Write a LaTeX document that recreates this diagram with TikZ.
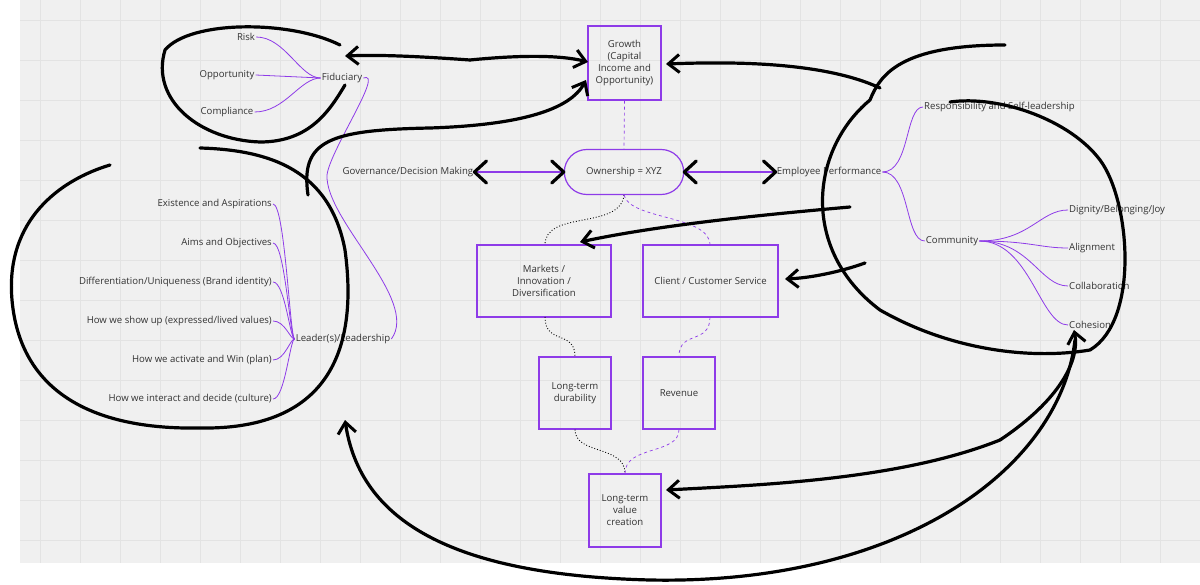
\documentclass[tikz,border=0pt]{standalone}
\usepackage{fontspec}
\setmainfont{Open Sans}
\usetikzlibrary{arrows.meta,shapes.misc}
\definecolor{pu}{HTML}{8E3BE8}
\definecolor{tx}{HTML}{333333}
\begin{document}
\begin{tikzpicture}[x=1pt,y=-1pt,
 every node/.style={font=\fontsize{9.6}{12}\selectfont,text=tx},
 box/.style={draw=pu,line width=1.2pt,minimum width=72pt,minimum height=72pt,align=center},
 lbl/.style={inner sep=1pt},
 br/.style={pu,line width=0.8pt},
 dot/.style={black,dotted,line width=0.9pt},
 dsh/.style={pu,dashed,line width=0.7pt},
 ink/.style={black,line width=3.2pt,line cap=round,line join=round},
 hd/.style={-{Straight Barb[length=11pt,width=18pt,line width=3pt]}}]
\useasboundingbox (0,0) rectangle (1200,585);
\fill[white] (0,0) rectangle (1200,585);
\fill[black!6] (20,0) rectangle (1200,563);
\foreach \x in {40,80,...,1200} \draw[black!11,line width=0.4pt] (\x,0) -- (\x,563);
\foreach \y in {20,60,...,560} \draw[black!11,line width=0.4pt] (20,\y) -- (1200,\y);
% boxes
\node[box,minimum width=73pt,minimum height=74pt] (gr) at (624.5,63) {Growth\\(Capital\\Income and\\Opportunity)};
\node[draw=pu,line width=1.2pt,rounded rectangle,minimum width=126pt,minimum height=45pt] (own) at (624,172) {Ownership = XYZ};
\node[box,minimum width=134pt] (mk) at (544,281) {Markets /\\Innovation /\\Diversification};
\node[box,minimum width=135pt] (cl) at (710.5,281) {Client / Customer Service};
\node[box] (ld) at (575,393) {Long-term\\durability};
\node[box] (rv) at (679,393) {Revenue};
\node[box,minimum height=73pt] (vc) at (625,510.5) {Long-term\\value\\creation};
\node[lbl] (gov) at (408,172) {Governance/Decision Making};
\node[lbl] (emp) at (829,172) {Employee Performance};
\node[lbl] (fid) at (342,78) {Fiduciary};
\node[lbl] (risk) at (246,37) {Risk};
\node[lbl] (opp) at (227,75) {Opportunity};
\node[lbl] (comp) at (227,112) {Compliance};
\node[lbl] (lead) at (343,339) {Leader(s)/Leadership};
\node[lbl,anchor=east] (l1) at (273,204) {Existence and Aspirations};
\node[lbl,anchor=east] (l2) at (273,243) {Aims and Objectives};
\node[lbl,anchor=east] (l3) at (273,282) {Differentiation/Uniqueness (Brand identity)};
\node[lbl,anchor=east] (l4) at (273,321) {How we show up (expressed/lived values)};
\node[lbl,anchor=east] (l5) at (273,360) {How we activate and Win (plan)};
\node[lbl,anchor=east] (l6) at (273,399) {How we interact and decide (culture)};
\node[lbl,anchor=west] (resp) at (923,107) {Responsibility and Self-leadership};
\node[lbl] (com) at (952,241) {Community};
\node[lbl,anchor=west] (c1) at (1068,210) {Dignity/Belonging/Joy};
\node[lbl,anchor=west] (c2) at (1068,248) {Alignment};
\node[lbl,anchor=west] (c3) at (1068,286) {Collaboration};
\node[lbl,anchor=west] (c4) at (1068,325) {Cohesion};
% purple links with hand-drawn heads
\draw[pu,line width=1.2pt] (gov.east) -- (own.west);
\draw[pu,line width=1.2pt] (own.east) -- (emp.west);
\draw[ink] ([shift={(12,-11)}]gov.east) -- (gov.east) -- ([shift={(12,11)}]gov.east);
\draw[ink] ([shift={(-12,-11)}]own.west) -- (own.west) -- ([shift={(-12,11)}]own.west);
\draw[ink] ([shift={(12,-11)}]own.east) -- (own.east) -- ([shift={(12,11)}]own.east);
\draw[ink] ([shift={(-12,-11)}]emp.west) -- (emp.west) -- ([shift={(-12,11)}]emp.west);
\draw[br] (fid.west) .. controls (300,78) and (285,37) .. (risk.east);
\draw[br] (fid.west) -- (opp.east);
\draw[br] (fid.west) .. controls (300,78) and (285,112) .. (comp.east);
\foreach \n/\yy in {l1/204,l2/243,l3/282,l4/321,l5/360,l6/399} \draw[br] (lead.west) .. controls (290,339) and (285,\yy) .. (\n.east);
\draw[br] (fid.east) .. controls (385,70) and (330,150) .. (327,175) .. controls (325,220) and (420,300) .. (lead.east);
\draw[br] (emp.east) .. controls (910,172) and (905,107) .. (resp.west);
\draw[br] (emp.east) .. controls (910,172) and (905,241) .. (com.west);
\foreach \n/\yy in {c1/210,c2/248,c3/286,c4/325} \draw[br] (com.east) .. controls (1030,241) and (1040,\yy) .. (\n.west);
% dotted / dashed
\draw[dsh] (gr.south) -- (own.north);
\draw[dot] (own.south) .. controls (620,230) and (545,210) .. (545,245);
\draw[dsh] (own.south) .. controls (630,220) and (710,215) .. (710,245);
\draw[dot] (545,317) .. controls (545,345) and (575,330) .. (ld.north);
\draw[dsh] (710,317) .. controls (710,345) and (679,330) .. (rv.north);
\draw[dot] (ld.south) .. controls (575,455) and (625,445) .. (vc.north);
\draw[dsh] (rv.south) .. controls (679,455) and (625,445) .. (vc.north);
% ink strokes
\draw[ink] (340,45) .. controls (290,20) and (190,20) .. (165,50) .. controls (150,100) and (200,140) .. (260,142) .. controls (310,142) and (330,110) .. (345,85);
\draw[ink,hd] (470,60) .. controls (400,55) and (370,55) .. (345,56);
\draw[ink,hd] (470,60) .. controls (520,55) and (560,55) .. (588,62);
\draw[ink,hd] (308,195) .. controls (300,140) and (330,130) .. (430,128) .. controls (520,125) and (570,110) .. (586,80);
\draw[ink] (200,148) .. controls (270,150) and (330,170) .. (345,250) .. controls (360,360) and (320,430) .. (200,428) .. controls (90,430) and (20,390) .. (12,300) .. controls (5,220) and (60,180) .. (110,165);
\draw[ink,hd] (880,88) .. controls (820,60) and (720,62) .. (666,64);
\draw[ink] (1005,45) .. controls (900,45) and (880,75) .. (870,100) .. controls (810,150) and (800,250) .. (880,310) .. controls (950,350) and (1030,360) .. (1090,350) .. controls (1140,320) and (1130,200) .. (1100,160) .. controls (1070,120) and (1000,95) .. (950,102);
\draw[ink,hd] (850,207) .. controls (760,215) and (660,225) .. (580,242);
\draw[ink,hd] (865,263) .. controls (840,272) and (810,278) .. (785,279);
\draw[ink,hd] (1000,440) .. controls (1060,400) and (1080,360) .. (1074,330);
\draw[ink,hd] (1000,440) .. controls (900,480) and (760,485) .. (666,490);
\draw[ink,hd] (1075,340) .. controls (1060,470) and (900,585) .. (650,580) .. controls (450,575) and (360,520) .. (345,420);
\end{tikzpicture}
\end{document}
